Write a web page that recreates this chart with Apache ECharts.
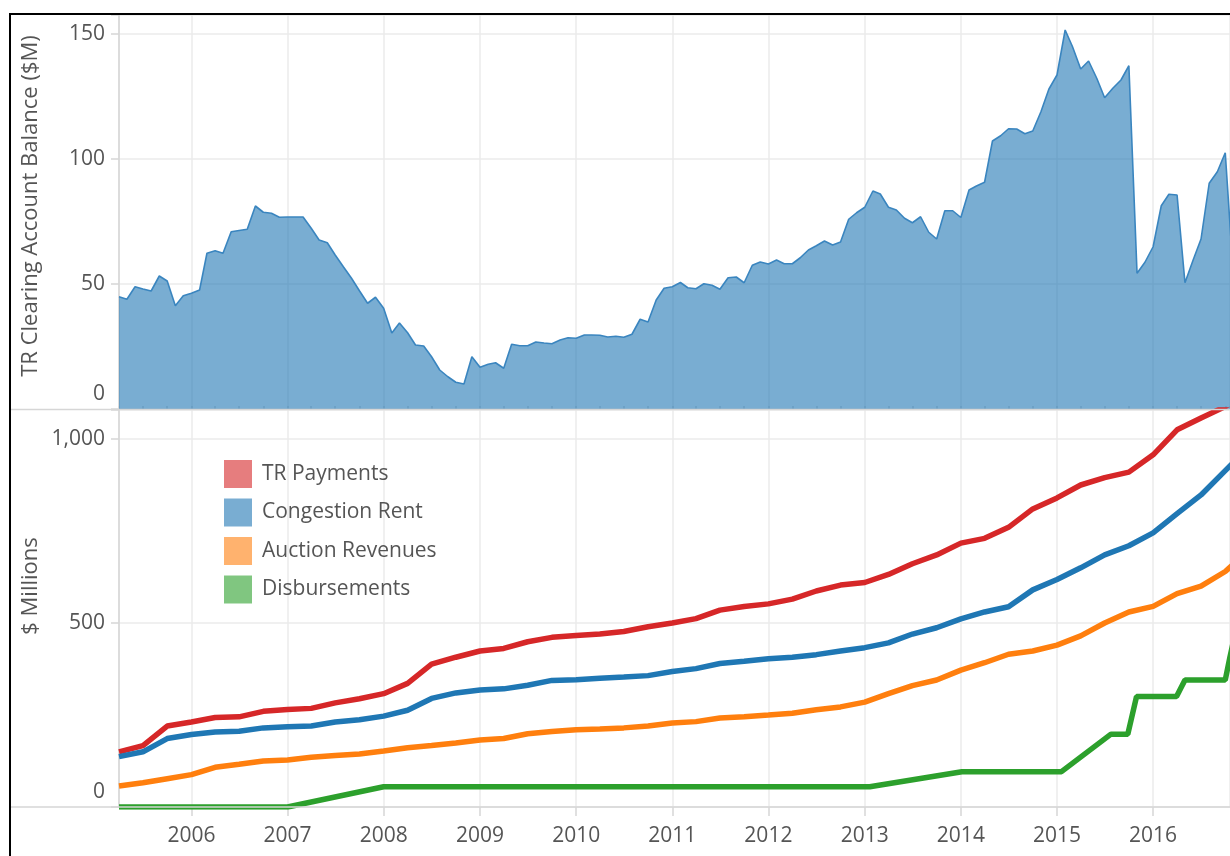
<!DOCTYPE html>
<html>
<head>
<meta charset="utf-8">
<script src="https://cdn.jsdelivr.net/npm/echarts@6/dist/echarts.min.js"></script>
<style>
  html, body { margin: 0; padding: 0; background: #fff; }
  #chart { width: 1230px; height: 856px; }
</style>
</head>
<body>
<div id="chart"></div>
<script>
// TR clearing account balance ($M), one value per month starting April 2005
const balanceStart = [2005, 4];
const balance = [
  44.9, 43.9, 48.9, 48.0, 47.2, 53.2, 51.2, 41.3, 45.3,
  46.3, 47.6, 62.3, 63.3, 62.3, 70.9, 71.4, 71.9, 81.2, 78.7, 78.3, 76.7,
  76.8, 76.8, 76.8, 72.3, 67.6, 66.5, 61.6, 56.9, 52.3, 47.3, 42.3, 44.7,
  40.3, 30.4, 34.4, 30.5, 25.6, 25.2, 20.9, 15.6, 12.9, 10.7, 10.0, 20.9,
  16.7, 17.9, 18.5, 16.3, 25.9, 25.3, 25.3, 26.8, 26.4, 26.1, 27.6, 28.5,
  28.3, 29.6, 29.6, 29.5, 28.8, 29.1, 28.7, 29.9, 35.9, 34.8, 43.6, 48.3,
  48.9, 50.6, 48.5, 48.1, 50.1, 49.5, 47.9, 52.5, 52.8, 50.5, 57.5, 58.8,
  58.0, 59.6, 58.1, 58.1, 60.5, 63.6, 65.3, 67.2, 65.6, 66.8, 75.9, 78.5,
  80.7, 87.2, 86.0, 80.7, 79.6, 76.3, 74.5, 76.9, 70.7, 68.0, 79.3, 79.3,
  76.6, 87.6, 89.2, 90.7, 107.2, 109.3, 112.1, 112.0, 110.1, 111.2, 118.9, 127.9,
  133.6, 151.6, 144.9, 136.0, 139.2, 132.3, 124.5, 128.3, 131.6, 137.3, 54.3, 58.7,
  64.9, 81.3, 85.9, 85.6, 50.5, 59.6, 68.0, 90.3, 94.9, 102.5, 53.0
];

// Cumulative totals ($ millions), one value per quarter starting April 2005
const cumulativeStart = [2005, 4];
const trPayments = [
  150, 167, 220, 231, 243, 245, 260, 265, 268, 283, 294, 308,
  336, 388, 407, 424, 431, 449, 461, 466, 470, 477, 490, 500,
  512, 535, 545, 552, 565, 587, 603, 610, 632, 661, 685, 717,
  730, 760, 810, 840, 875, 895, 910, 957, 1025, 1057, 1088, 1130
];
const congestionRent = [
  137, 150, 186, 197, 204, 206, 215, 218, 220, 231, 237, 247,
  263, 295, 310, 318, 321, 331, 344, 346, 350, 353, 357, 368,
  376, 390, 396, 403, 407, 414, 424, 433, 446, 470, 487, 511,
  530, 544, 590, 618, 650, 685, 710, 745, 797, 848, 914, 980
];
const auctionRevenues = [
  57, 66, 77, 88, 108, 116, 125, 128, 135, 140, 144, 152,
  161, 167, 174, 182, 186, 199, 205, 210, 212, 215, 220, 228,
  232, 242, 245, 250, 255, 264, 272, 285, 308, 330, 345, 372,
  392, 415, 424, 440, 465, 500, 530, 545, 580, 600, 640, 700
];

// Disbursements move in steps, so they are kept at their change dates
const disbursementDates = [
  '2005-04-01', '2007-01-01', '2008-01-01', '2013-01-20', '2014-01-05',
  '2015-01-18', '2015-07-25', '2015-09-27', '2015-10-30', '2016-03-30',
  '2016-05-01', '2016-10-01', '2016-10-19', '2016-11-10'
];
const disbursements = [0, 0, 55, 55, 96, 96, 198, 198, 300, 300, 345, 345, 408, 480];

const seriesNames = ['TR Payments', 'Congestion Rent', 'Auction Revenues', 'Disbursements'];
const seriesColors = ['#d62728', '#1f77b4', '#ff7f0e', '#2ca02c'];
const balanceTicks = [0, 50, 100, 150];
const millionTicks = [0, 500, 1000];

const axisStart = '2005-04-01';
const axisEnd = '2016-10-19';

// date string for the i-th period of `step` months after a [year, month] start
function periodDate(start, step, i) {
  const m = start[1] - 1 + i * step;
  const y = start[0] + Math.floor(m / 12);
  const mm = (m % 12) + 1;
  return y + '-' + String(mm).padStart(2, '0') + '-01';
}
const pair = (start, step) => (v, i) => [periodDate(start, step, i), v];

const balanceData = balance.map(pair(balanceStart, 1));
const cumulativeSets = [trPayments, congestionRent, auctionRevenues].map(a => a.map(pair(cumulativeStart, 3)));
const disbursementData = disbursementDates.map((d, i) => [d, disbursements[i]]);

const FONT = '"Open Sans", "DejaVu Sans", sans-serif';
const TEXT = '#555555';
const GRID_LINE = '#ebebeb';
const AXIS_LINE = '#d6d6d6';
const YEAR = 365.25 * 24 * 3600 * 1000;

function valueLabel(ticks, fmt) {
  return v => {
    if (ticks.indexOf(v) < 0) return '';
    const s = fmt(v);
    return v === 0 ? '{zero|' + s + '}' : s;
  };
}
const zeroRich = { zero: { fontSize: 21, fontFamily: FONT, color: TEXT, padding: [0, 0, 30, 0] } };

const chart = echarts.init(document.getElementById('chart'), null, { renderer: 'canvas' });

const timeAxisBase = {
  type: 'time', min: axisStart, max: axisEnd,
  minInterval: YEAR * 0.98, maxInterval: YEAR * 1.02, splitNumber: 12
};

chart.setOption({
  backgroundColor: '#ffffff',
  animation: false,
  textStyle: { fontFamily: FONT },
  grid: [
    { left: 119, right: 0, top: 15, height: 394 },
    { left: 119, right: 0, top: 410, height: 397 }
  ],
  xAxis: [
    Object.assign({}, timeAxisBase, {
      gridIndex: 0,
      axisLine: { show: false }, axisTick: { show: false }, axisLabel: { show: false },
      splitLine: { show: true, lineStyle: { color: GRID_LINE, width: 1.5 } }
    }),
    Object.assign({}, timeAxisBase, {
      gridIndex: 1,
      axisLine: { show: false },
      axisTick: { show: true, length: 9, lineStyle: { color: AXIS_LINE, width: 1.5 } },
      axisLabel: {
        fontSize: 21, color: TEXT, margin: 19, fontFamily: FONT,
        formatter: v => String(new Date(v).getFullYear())
      },
      splitLine: { show: true, lineStyle: { color: GRID_LINE, width: 1.5 } }
    }),
    {
      // half-year tick marks under the bottom axis
      type: 'time', gridIndex: 1, min: axisStart, max: axisEnd,
      minInterval: YEAR / 2 * 0.98, maxInterval: YEAR / 2 * 1.02, splitNumber: 24,
      axisLine: { show: false }, axisLabel: { show: false }, splitLine: { show: false },
      axisTick: { show: true, length: 4, lineStyle: { color: AXIS_LINE, width: 1.5 } }
    }
  ],
  yAxis: [
    {
      type: 'value', gridIndex: 0, min: 0, max: 157.6, interval: 50,
      axisLine: { show: true, lineStyle: { color: AXIS_LINE, width: 1.5 } },
      axisTick: { show: true, length: 8, lineStyle: { color: AXIS_LINE, width: 1.5 } },
      axisLabel: {
        fontSize: 21, color: TEXT, margin: 14, fontFamily: FONT,
        formatter: valueLabel(balanceTicks, v => String(v)), rich: zeroRich
      },
      splitLine: { show: true, lineStyle: { color: GRID_LINE, width: 1.5 } }
    },
    {
      type: 'value', gridIndex: 1, min: 0, max: 1078.8, interval: 500,
      axisLine: { show: true, lineStyle: { color: AXIS_LINE, width: 1.5 } },
      axisTick: { show: true, length: 8, lineStyle: { color: AXIS_LINE, width: 1.5 } },
      axisLabel: {
        fontSize: 21, color: TEXT, margin: 14, fontFamily: FONT,
        formatter: valueLabel(millionTicks, v => v.toLocaleString('en-US')), rich: zeroRich
      },
      splitLine: { show: true, lineStyle: { color: GRID_LINE, width: 1.5 } }
    }
  ],
  legend: {
    orient: 'vertical', left: 219, top: 455,
    icon: 'rect', itemWidth: 28, itemHeight: 28, itemGap: 10.5,
    itemStyle: { opacity: 0.6 },
    textStyle: { fontSize: 21, color: TEXT, fontFamily: FONT, padding: [0, 0, 0, 5] },
    data: seriesNames
  },
  series: [
    {
      type: 'line', name: 'Balance', xAxisIndex: 0, yAxisIndex: 0,
      data: balanceData, symbol: 'none',
      lineStyle: { color: '#3a85bf', width: 1.6 },
      itemStyle: { color: '#1f77b4' },
      areaStyle: { color: '#1f77b4', opacity: 0.6 }
    }
  ].concat(seriesNames.map((name, i) => ({
    type: 'line', name: name, xAxisIndex: 1, yAxisIndex: 1,
    data: i < 3 ? cumulativeSets[i] : disbursementData,
    symbol: 'none',
    lineStyle: { color: seriesColors[i], width: 5.5 },
    itemStyle: { color: seriesColors[i] }
  }))),
  graphic: [
    { type: 'line', z: 50, shape: { x1: 11, y1: 409.5, x2: 1230, y2: 409.5 }, style: { stroke: AXIS_LINE, lineWidth: 1.5 } },
    { type: 'line', z: 50, shape: { x1: 11, y1: 807, x2: 1230, y2: 807 }, style: { stroke: AXIS_LINE, lineWidth: 1.5 } },
    {
      type: 'text', x: 31, y: 206, rotation: Math.PI / 2,
      style: { text: 'TR Clearing Account Balance ($M)', fill: TEXT, font: '22px ' + FONT, align: 'center', verticalAlign: 'middle' }
    },
    {
      type: 'text', x: 31, y: 586, rotation: Math.PI / 2,
      style: { text: '$ Millions', fill: TEXT, font: '22px ' + FONT, align: 'center', verticalAlign: 'middle' }
    },
    { type: 'rect', z: 100, shape: { x: 10, y: 14, width: 1400, height: 1000 }, style: { fill: 'none', stroke: '#000', lineWidth: 2 } }
  ]
});
</script>
</body>
</html>
